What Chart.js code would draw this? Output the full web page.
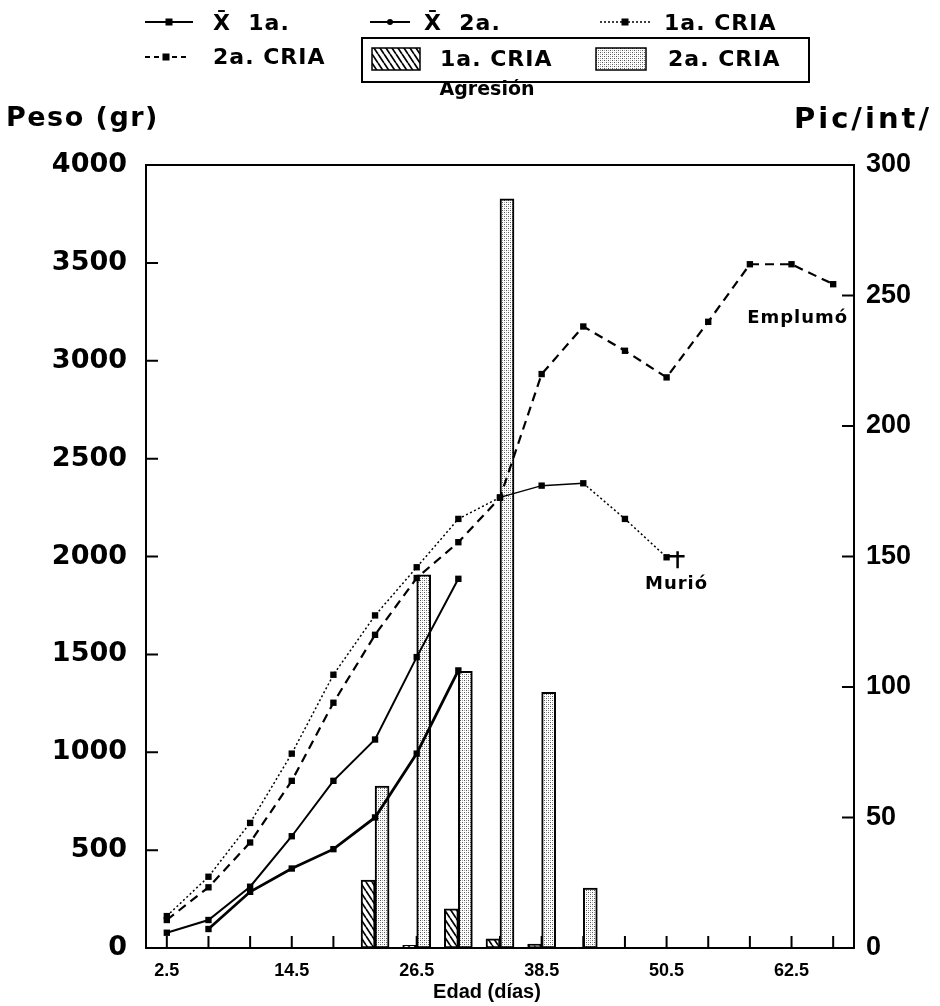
<!DOCTYPE html>
<html><head><meta charset="utf-8">
<script src="https://cdn.jsdelivr.net/npm/chart.js@4.4.1/dist/chart.umd.min.js"></script>
<style>html,body{margin:0;padding:0;background:#fff;}#wrap{position:relative;width:940px;height:1006px;}</style>
</head><body><div id="wrap"><canvas id="c" width="940" height="1006"></canvas></div>
<script>
// ---- data ----
const days = [2.5,6.5,10.5,14.5,18.5,22.5,26.5,30.5,34.5,38.5,42.5,46.5,50.5,54.5,58.5,62.5,66.5];
const xTickLabels = ['2.5','14.5','26.5','38.5','50.5','62.5'];
const meanFirst = [78,143,313,571,854,1065,1486,1886];
const meanSecond = [null,97,287,406,505,667,993,1418];
const firstBroodWeight = [163,364,639,993,1396,1699,1945,2192,2302,2362,2374,2192,1996];
const secondBroodWeight = [143,310,539,854,1253,1600,1890,2073,2300,2932,3175,3051,2915,3199,3493,3493,3391];
const aggressionDays = [22.5,26.5,30.5,34.5,38.5,42.5];
const aggressionFirst = [26,1,15,3.5,1.5,0];
const aggressionSecond = [62,143,106,287,98,23];
const legendLineLabels = ['X\u0304  1a.','X\u0304  2a.','1a. CRIA','2a. CRIA'];
const legendBarLabels = ['1a. CRIA','2a. CRIA'];
const legendBoxTitle = 'Agresión';
const leftTitle = 'Peso (gr)';
const rightTitle = 'Pic/int/';
const xTitle = 'Edad (días)';
const noteDied = 'Murió';
const noteFledged = 'Emplumó';

function pairs(xs, ys){ const out=[]; xs.forEach((x,i)=>{ const y=ys[i]; if(y!==null&&y!==undefined) out.push({x,y}); }); return out; }

function hatchPattern(){
  const c=document.createElement('canvas'); c.width=6; c.height=9;
  const g=c.getContext('2d'); g.fillStyle='#fff'; g.fillRect(0,0,6,9);
  g.strokeStyle='#000'; g.lineWidth=1.7; g.beginPath();
  g.moveTo(0,0); g.lineTo(6,9); g.moveTo(-6,0); g.lineTo(0,9); g.moveTo(6,0); g.lineTo(12,9); g.stroke();
  return document.getElementById('c').getContext('2d').createPattern(c,'repeat');
}
function dotPattern(){
  const c=document.createElement('canvas'); c.width=4; c.height=4;
  const g=c.getContext('2d'); g.fillStyle='#fff'; g.fillRect(0,0,4,4);
  g.fillStyle='#555'; g.fillRect(0,0,1,1); g.fillRect(2,2,1,1);
  g.fillStyle='#aaa'; g.fillRect(2,0,1,1); g.fillRect(0,2,1,1);
  return document.getElementById('c').getContext('2d').createPattern(c,'repeat');
}
const HATCH = hatchPattern(), DOTS = dotPattern();
const BOLD_WIDE = 'DejaVu Sans';

function drawText(ctx, txt, x, y, size, align, family, spacing){
  ctx.save();
  ctx.font = 'bold '+size+'px "'+(family||BOLD_WIDE)+'"';
  ctx.letterSpacing = (spacing||0)+'px';
  ctx.fillStyle='#000'; ctx.textAlign=align||'left'; ctx.textBaseline='middle';
  ctx.fillText(txt, x, y); ctx.restore();
}
function sample(ctx, x1, x2, y, dash, w, marker){
  ctx.save(); ctx.strokeStyle='#000'; ctx.lineWidth=w; ctx.setLineDash(dash);
  ctx.beginPath(); ctx.moveTo(x1,y); ctx.lineTo(x2,y); ctx.stroke(); ctx.setLineDash([]);
  const m=(x1+x2)/2; ctx.fillStyle='#000';
  if(marker==='rect'){ ctx.fillRect(m-3.5,y-3.5,7,7); }
  else { ctx.beginPath(); ctx.arc(m,y,3,0,Math.PI*2); ctx.fill(); }
  ctx.restore();
}

const framePlugin = {
  id:'frame',
  beforeDatasetsDraw(chart){
    const {ctx, chartArea:a, scales} = chart;
    ctx.save(); ctx.strokeStyle='#000'; ctx.lineWidth=2; ctx.beginPath();
    scales.y.ticks.forEach(t=>{ const p=scales.y.getPixelForValue(t.value); ctx.moveTo(a.left,p); ctx.lineTo(a.left+12,p); });
    scales.y1.ticks.forEach(t=>{ const p=scales.y1.getPixelForValue(t.value); ctx.moveTo(a.right,p); ctx.lineTo(a.right-12,p); });
    scales.x.ticks.forEach(t=>{ const p=scales.x.getPixelForValue(t.value); ctx.moveTo(p,a.bottom); ctx.lineTo(p,a.bottom-12); });
    ctx.stroke(); ctx.restore();
  },
  afterDatasetsDraw(chart){
    const {ctx, chartArea:a, scales} = chart;
    ctx.save(); ctx.strokeStyle='#000'; ctx.lineWidth=2;
    ctx.strokeRect(a.left, a.top, a.right-a.left, a.bottom-a.top);
    const lx = firstBroodWeight.length-1;
    const px = scales.x.getPixelForValue(days[lx]), py = scales.y.getPixelForValue(firstBroodWeight[lx]);
    ctx.lineWidth=2.5; ctx.beginPath();
    ctx.moveTo(px, py-1); ctx.lineTo(px+18, py-1);
    ctx.moveTo(px+11, py-6); ctx.lineTo(px+11, py+11); ctx.stroke();
    ctx.restore();
    drawText(ctx, noteDied, px+10, py+27, 18, 'center', BOLD_WIDE, 1);
    const ex = scales.x.getPixelForValue(days[days.length-1]), ey = scales.y.getPixelForValue(secondBroodWeight[secondBroodWeight.length-1]);
    drawText(ctx, noteFledged, ex+15, ey+34, 18, 'right', BOLD_WIDE, 1);
  },
  afterDraw(chart){
    const ctx = chart.ctx;
    sample(ctx,145,193,22,[],2.2,'rect'); drawText(ctx, legendLineLabels[0], 213, 24, 22, 'left', BOLD_WIDE, 1);
    sample(ctx,370,410,22,[],2,'dot'); drawText(ctx, legendLineLabels[1], 424, 24, 22, 'left', BOLD_WIDE, 1);
    sample(ctx,600,650,22,[2,2],1.5,'rect'); drawText(ctx, legendLineLabels[2], 664, 24, 22, 'left', BOLD_WIDE, 1);
    sample(ctx,145,187,57,[5,4],2,'rect'); drawText(ctx, legendLineLabels[3], 213, 58, 22, 'left', BOLD_WIDE, 1);
    ctx.save(); ctx.strokeStyle='#000'; ctx.lineWidth=2; ctx.strokeRect(362,38,447,44);
    ctx.fillStyle=HATCH; ctx.fillRect(372,48,48,22); ctx.lineWidth=1.5; ctx.strokeRect(372,48,48,22);
    ctx.fillStyle=DOTS; ctx.fillRect(596,48,50,22); ctx.strokeRect(596,48,50,22);
    ctx.restore();
    drawText(ctx, legendBarLabels[0], 440, 60, 22, 'left', BOLD_WIDE, 1);
    drawText(ctx, legendBarLabels[1], 668, 60, 22, 'left', BOLD_WIDE, 1);
    drawText(ctx, legendBoxTitle, 487, 90, 19, 'center', BOLD_WIDE, 0);
    drawText(ctx, leftTitle, 6, 119, 27, 'left', BOLD_WIDE, 1.5);
    drawText(ctx, rightTitle, 932, 120, 29, 'right', BOLD_WIDE, 3);
    drawText(ctx, xTitle, 487, 992, 20, 'center', 'Liberation Sans', 0);
  }
};

const ctx = document.getElementById('c').getContext('2d');
new Chart(ctx, {
  type:'bar',
  data:{ datasets:[
    {type:'bar', label:legendBarLabels[0], data:pairs(aggressionDays, aggressionFirst), yAxisID:'y1', backgroundColor:HATCH, borderColor:'#000', borderWidth:2, borderSkipped:false, barThickness:14, order:2},
    {type:'bar', label:legendBarLabels[1], data:pairs(aggressionDays, aggressionSecond), yAxisID:'y1', backgroundColor:DOTS, borderColor:'#000', borderWidth:2, borderSkipped:false, barThickness:14, order:2},
    {type:'line', label:legendLineLabels[0], data:pairs(days, meanFirst), yAxisID:'y', borderColor:'#000', borderWidth:2, pointStyle:'rect', pointRadius:4.5, pointBackgroundColor:'#000', pointBorderWidth:0, tension:0, order:1},
    {type:'line', label:legendLineLabels[1], data:pairs(days, meanSecond), yAxisID:'y', borderColor:'#000', borderWidth:2.8, pointStyle:'rect', pointRadius:4.5, pointBackgroundColor:'#000', pointBorderWidth:0, tension:0, order:1},
    {type:'line', label:legendLineLabels[2], data:pairs(days, firstBroodWeight), yAxisID:'y', borderColor:'#000', borderWidth:1.5, borderDash:[2,2.5],
      segment:{borderDash: c => (c.p0.parsed.x>=34 && c.p1.parsed.x<=43) ? [] : [2,2.5]},
      pointStyle:'rect', pointRadius:4.5, pointBackgroundColor:'#000', pointBorderWidth:0, tension:0, order:1},
    {type:'line', label:legendLineLabels[3], data:pairs(days, secondBroodWeight), yAxisID:'y', borderColor:'#000', borderWidth:2.2, borderDash:[9,6], pointStyle:'rect', pointRadius:4.5, pointBackgroundColor:'#000', pointBorderWidth:0, tension:0, order:1}
  ]},
  options:{
    responsive:false, animation:false, devicePixelRatio:1,
    layout:{padding:{top:165,left:0,right:0,bottom:0}},
    plugins:{legend:{display:false}, tooltip:{enabled:false}, title:{display:false}},
    scales:{
      x:{type:'linear', position:'bottom', min:0.5, max:68.5, offset:false,
        grid:{display:false, drawTicks:false, offset:false}, border:{display:false},
        afterBuildTicks: s => { s.ticks = days.map(v=>({value:v})); },
        afterFit: s => { s.height = 58; },
        ticks:{autoSkip:false, maxRotation:0, minRotation:0, padding:12, color:'#000',
          font:{family:'Liberation Sans', weight:'bold', size:18},
          callback: v => xTickLabels.includes(String(v)) ? String(v) : ''}},
      y:{position:'left', min:0, max:4000,
        grid:{display:false, drawTicks:false}, border:{display:false},
        afterFit: s => { s.width = 146; },
        ticks:{stepSize:500, padding:19, color:'#000', font:{family:'DejaVu Sans', weight:'bold', size:27}, callback: v => String(v)}},
      y1:{position:'right', min:0, max:300,
        grid:{display:false, drawTicks:false}, border:{display:false},
        afterFit: s => { s.width = 86; },
        ticks:{stepSize:50, padding:12, color:'#000', font:{family:'Liberation Sans', weight:'bold', size:27}, callback: v => String(v)}}
    }
  },
  plugins:[framePlugin]
});
</script></body></html>
